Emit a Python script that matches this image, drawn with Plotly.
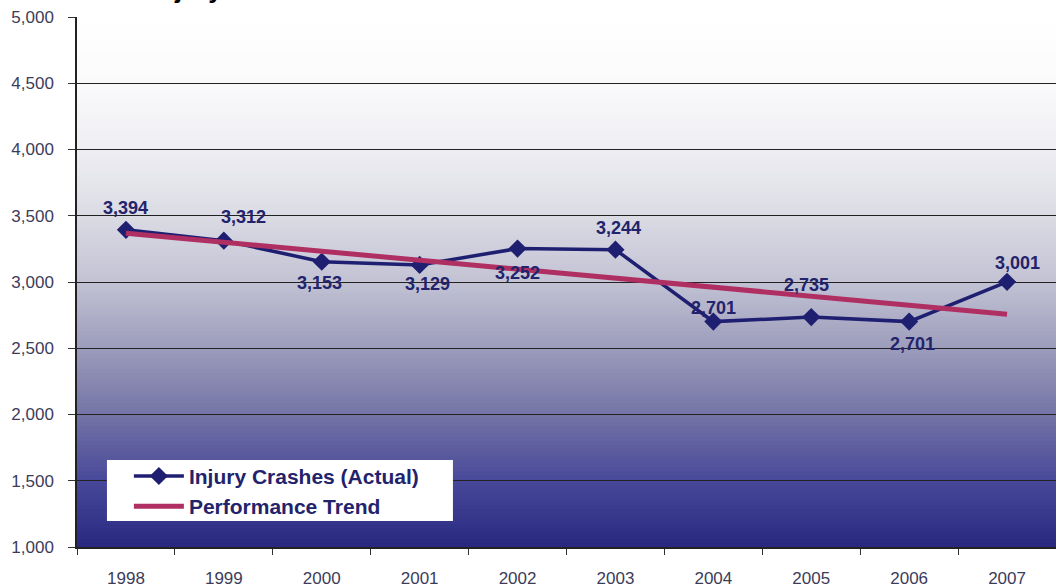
import plotly.graph_objects as go

# ---------------- data ----------------
years = ["1998", "1999", "2000", "2001", "2002", "2003", "2004", "2005", "2006", "2007"]
injury_crashes = [3394, 3312, 3153, 3129, 3252, 3244, 2701, 2735, 2701, 3001]
performance_trend = [3368, 3300, 3232, 3164, 3096, 3028, 2960, 2893, 2825, 2757]
y_ticks = [1000, 1500, 2000, 2500, 3000, 3500, 4000, 4500, 5000]
y_tick_labels = ["1,000", "1,500", "2,000", "2,500", "3,000", "3,500", "4,000", "4,500", "5,000"]
series_names = ["Injury Crashes (Actual)", "Performance Trend"]
title_text = "Injury Crashes"

# ---------------- styles ----------------
FONT = "Arial, 'Liberation Sans', sans-serif"
NAVY = "#1f1f72"
TREND = "#b02f62"
LABEL_COLOR = "#23236c"
TICK_COLOR = "#3c3c5a"
# label offsets (xshift, yshift) in pixels, per point
label_shifts = [(0, 22), (20, 24), (-2, -21), (8, -19), (0, -24),
                (3, 22), (0, 14), (-5, 32), (3, -22), (10, 19)]

# gradient stops (fraction from bottom, rgb)
grad_stops = [
    (0.00, (40, 40, 128)),
    (0.125, (72, 72, 154)),
    (0.25, (116, 116, 166)),
    (0.375, (156, 156, 188)),
    (0.50, (194, 194, 212)),
    (0.63, (220, 220, 229)),
    (0.75, (238, 238, 243)),
    (0.88, (251, 251, 252)),
    (1.00, (255, 255, 255)),
]


def grad_color(f):
    for (f0, c0), (f1, c1) in zip(grad_stops[:-1], grad_stops[1:]):
        if f0 <= f <= f1:
            t = (f - f0) / (f1 - f0) if f1 > f0 else 0
            c = [round(a + (b - a) * t) for a, b in zip(c0, c1)]
            return f"rgb({c[0]},{c[1]},{c[2]})"
    return "rgb(255,255,255)"


shapes = []
n_bands = 140
for i in range(n_bands):
    y0 = i / n_bands
    y1 = (i + 1) / n_bands
    shapes.append(dict(type="rect", xref="paper", yref="paper", x0=0, x1=1,
                       y0=y0, y1=y1 + 0.002, line=dict(width=0),
                       fillcolor=grad_color((y0 + y1) / 2), layer="below"))
# white legend box
shapes.append(dict(type="rect", xref="paper", yref="paper",
                   x0=0.0306, x1=0.384, y0=0.049, y1=0.164,
                   line=dict(width=0), fillcolor="white", layer="above"))

fig = go.Figure()
fig.add_trace(go.Scatter(
    x=years, y=injury_crashes, name=series_names[0], mode="lines+markers",
    line=dict(color=NAVY, width=3.5),
    marker=dict(symbol="diamond", size=14, color=NAVY),
))
fig.add_trace(go.Scatter(
    x=years, y=performance_trend, name=series_names[1], mode="lines",
    line=dict(color=TREND, width=5),
))

annotations = []
for i, (v, (dx, dy)) in enumerate(zip(injury_crashes, label_shifts)):
    annotations.append(dict(
        x=i, y=v, xref="x", yref="y", text=f"{v:,}", showarrow=False,
        xshift=dx, yshift=dy,
        font=dict(family=FONT, size=18, color=LABEL_COLOR, weight="bold"),
    ))
annotations.append(dict(
    x=0.075, y=1, xref="paper", yref="paper", xanchor="left", yanchor="bottom",
    yshift=11, text=title_text, showarrow=False,
    font=dict(family=FONT, size=26, color="#000000", weight="bold"),
))

fig.update_layout(
    width=1056, height=587,
    margin=dict(l=77, r=0, t=17, b=40, pad=0),
    paper_bgcolor="white", plot_bgcolor="white",
    shapes=shapes, annotations=annotations,
    showlegend=True,
    legend=dict(
        x=0.053, y=0.172, xanchor="left", yanchor="top",
        bgcolor="rgba(0,0,0,0)", borderwidth=0,
        font=dict(family=FONT, size=21, color=LABEL_COLOR, weight="bold"),
        itemwidth=50, tracegroupgap=0,
    ),
    xaxis=dict(
        type="category", range=[-0.5, 9.5],
        showgrid=False, showline=True, linecolor="#222222", linewidth=1.5,
        ticks="outside", tickson="boundaries", ticklen=6, tickcolor="#333333",
        tickfont=dict(family=FONT, size=17, color=TICK_COLOR),
        ticklabelstandoff=15, zeroline=False, fixedrange=True,
    ),
    yaxis=dict(
        range=[1000, 5000], tickvals=y_ticks, ticktext=y_tick_labels,
        showgrid=True, gridcolor="#222222", gridwidth=1.2,
        showline=True, linecolor="#222222", linewidth=1.5,
        ticks="outside", ticklen=7, tickcolor="#333333",
        tickfont=dict(family=FONT, size=17, color=TICK_COLOR),
        ticklabelstandoff=11, zeroline=False, fixedrange=True,
    ),
    font=dict(family=FONT),
)

fig.write_html("out.html", config={"displayModeBar": False},
               post_script="document.body.style.margin='0';")
